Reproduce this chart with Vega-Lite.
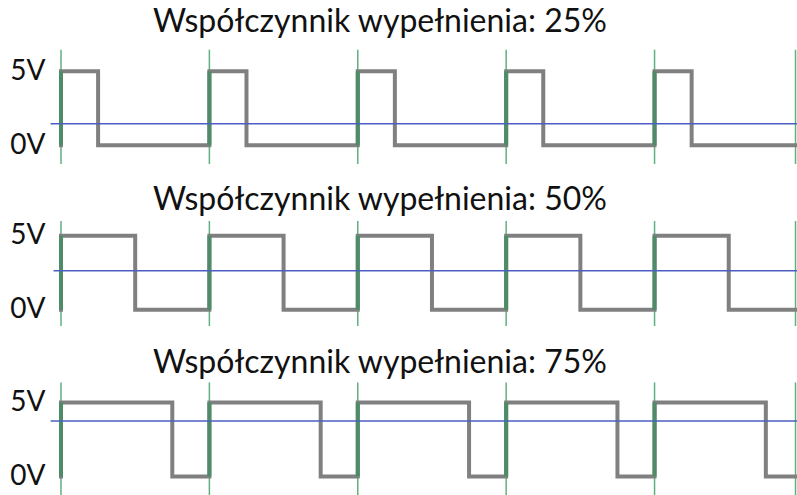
{
  "$schema": "https://vega.github.io/schema/vega-lite/v6.json",
  "background": "white",
  "padding": {"left": 0, "top": 5, "right": 0, "bottom": 0},
  "spacing": 18.6,
  "config": {
    "view": {"stroke": null},
    "font": "Lato",
    "title": {"font": "Lato", "fontSize": 32, "fontWeight": "normal", "color": "#111111", "anchor": "middle", "dx": -49, "baseline": "alphabetic"}
  },
  "datasets": {
    "wave": [
      {"duty": 25, "t": 0, "v": 0}, {"duty": 25, "t": 0, "v": 5}, {"duty": 25, "t": 0.25, "v": 0},
      {"duty": 25, "t": 1, "v": 5}, {"duty": 25, "t": 1.25, "v": 0},
      {"duty": 25, "t": 2, "v": 5}, {"duty": 25, "t": 2.25, "v": 0},
      {"duty": 25, "t": 3, "v": 5}, {"duty": 25, "t": 3.25, "v": 0},
      {"duty": 25, "t": 4, "v": 5}, {"duty": 25, "t": 4.25, "v": 0}, {"duty": 25, "t": 4.95, "v": 0},
      {"duty": 50, "t": 0, "v": 0}, {"duty": 50, "t": 0, "v": 5}, {"duty": 50, "t": 0.5, "v": 0},
      {"duty": 50, "t": 1, "v": 5}, {"duty": 50, "t": 1.5, "v": 0},
      {"duty": 50, "t": 2, "v": 5}, {"duty": 50, "t": 2.5, "v": 0},
      {"duty": 50, "t": 3, "v": 5}, {"duty": 50, "t": 3.5, "v": 0},
      {"duty": 50, "t": 4, "v": 5}, {"duty": 50, "t": 4.5, "v": 0}, {"duty": 50, "t": 4.95, "v": 0},
      {"duty": 75, "t": 0, "v": 0}, {"duty": 75, "t": 0, "v": 5}, {"duty": 75, "t": 0.75, "v": 0},
      {"duty": 75, "t": 1, "v": 5}, {"duty": 75, "t": 1.75, "v": 0},
      {"duty": 75, "t": 2, "v": 5}, {"duty": 75, "t": 2.75, "v": 0},
      {"duty": 75, "t": 3, "v": 5}, {"duty": 75, "t": 3.75, "v": 0},
      {"duty": 75, "t": 4, "v": 5}, {"duty": 75, "t": 4.75, "v": 0}, {"duty": 75, "t": 4.95, "v": 0}
    ],
    "periods": [{"t": 0}, {"t": 1}, {"t": 2}, {"t": 3}, {"t": 4}, {"t": 4.95}],
    "avg": [{"duty": 25, "avg": 1.45}, {"duty": 50, "avg": 2.64}, {"duty": 75, "avg": 3.74}]
  },
  "vconcat": [
    {
      "width": 736, "height": 115,
      "title": {"text": "Współczynnik wypełnienia: 25%", "offset": 10.2},
      "layer": [
        {"data": {"name": "periods"}, "mark": {"type": "rule", "color": "#5fb07f", "strokeWidth": 1.5},
         "encoding": {"x": {"field": "t", "type": "quantitative", "scale": {"domain": [0, 4.96], "nice": false, "zero": false}, "axis": null},
                      "y": {"datum": 6.45, "type": "quantitative", "scale": {"domain": [-1.27, 6.5], "nice": false, "zero": false},
                            "axis": {"values": [0, 5], "title": null, "labelExpr": "datum.value + 'V'", "domain": false, "ticks": false, "grid": false, "labelFontSize": 28, "labelFont": "Lato", "labelColor": "#111111", "labelPadding": 16, "minExtent": 61, "maxExtent": 61, "labelBaseline": "middle"}},
                      "y2": {"datum": -1.27}}},
        {"data": {"name": "wave"}, "transform": [{"filter": "datum.duty == 25"}],
         "mark": {"type": "line", "interpolate": "step-after", "color": "#808080", "strokeWidth": 4, "strokeJoin": "miter", "strokeCap": "square"},
         "encoding": {"x": {"field": "t", "type": "quantitative", "axis": null},
                      "y": {"field": "v", "type": "quantitative",
                            "axis": {"values": [0, 5], "title": null, "labelExpr": "datum.value + 'V'", "domain": false, "ticks": false, "grid": false, "labelFontSize": 28, "labelFont": "Lato", "labelColor": "#111111", "labelPadding": 16, "minExtent": 61, "maxExtent": 61, "labelBaseline": "middle"}},
                      "order": {"value": null}}},
        {"data": {"name": "periods"}, "transform": [{"filter": "datum.t < 4.9"}],
         "mark": {"type": "rule", "color": "#4c8c66", "strokeWidth": 4},
         "encoding": {"x": {"field": "t", "type": "quantitative", "axis": null}, "y": {"datum": 5, "type": "quantitative"}, "y2": {"datum": 0}}},
        {"data": {"name": "avg"}, "transform": [{"filter": "datum.duty == 25"}],
         "mark": {"type": "rule", "color": "#4a5fc1", "strokeWidth": 1.4},
         "encoding": {"x": {"datum": -0.07, "type": "quantitative", "axis": null}, "x2": {"datum": 4.97},
                      "y": {"field": "avg", "type": "quantitative"}}}
      ]
    },
    {
      "width": 736, "height": 115,
      "title": {"text": "Współczynnik wypełnienia: 50%", "offset": -3.2},
      "layer": [
        {"data": {"name": "periods"}, "mark": {"type": "rule", "color": "#5fb07f", "strokeWidth": 1.5},
         "encoding": {"x": {"field": "t", "type": "quantitative", "scale": {"domain": [0, 4.96], "nice": false, "zero": false}, "axis": null},
                      "y": {"datum": 6.0, "type": "quantitative", "scale": {"domain": [-1.27, 6.5], "nice": false, "zero": false},
                            "axis": {"values": [0, 5], "title": null, "labelExpr": "datum.value + 'V'", "domain": false, "ticks": false, "grid": false, "labelFontSize": 28, "labelFont": "Lato", "labelColor": "#111111", "labelPadding": 16, "minExtent": 61, "maxExtent": 61, "labelBaseline": "middle"}},
                      "y2": {"datum": -1.1}}},
        {"data": {"name": "wave"}, "transform": [{"filter": "datum.duty == 50"}],
         "mark": {"type": "line", "interpolate": "step-after", "color": "#808080", "strokeWidth": 4, "strokeJoin": "miter", "strokeCap": "square"},
         "encoding": {"x": {"field": "t", "type": "quantitative", "axis": null},
                      "y": {"field": "v", "type": "quantitative",
                            "axis": {"values": [0, 5], "title": null, "labelExpr": "datum.value + 'V'", "domain": false, "ticks": false, "grid": false, "labelFontSize": 28, "labelFont": "Lato", "labelColor": "#111111", "labelPadding": 16, "minExtent": 61, "maxExtent": 61, "labelBaseline": "middle"}},
                      "order": {"value": null}}},
        {"data": {"name": "periods"}, "transform": [{"filter": "datum.t < 4.9"}],
         "mark": {"type": "rule", "color": "#4c8c66", "strokeWidth": 4},
         "encoding": {"x": {"field": "t", "type": "quantitative", "axis": null}, "y": {"datum": 5, "type": "quantitative"}, "y2": {"datum": 0}}},
        {"data": {"name": "avg"}, "transform": [{"filter": "datum.duty == 50"}],
         "mark": {"type": "rule", "color": "#4a5fc1", "strokeWidth": 1.4},
         "encoding": {"x": {"datum": -0.05, "type": "quantitative", "axis": null}, "x2": {"datum": 4.97},
                      "y": {"field": "avg", "type": "quantitative"}}}
      ]
    },
    {
      "width": 736, "height": 115,
      "title": {"text": "Współczynnik wypełnienia: 75%", "offset": -0.2},
      "layer": [
        {"data": {"name": "periods"}, "mark": {"type": "rule", "color": "#5fb07f", "strokeWidth": 1.5},
         "encoding": {"x": {"field": "t", "type": "quantitative", "scale": {"domain": [0, 4.96], "nice": false, "zero": false}, "axis": null},
                      "y": {"datum": 6.35, "type": "quantitative", "scale": {"domain": [-1.27, 6.5], "nice": false, "zero": false},
                            "axis": {"values": [0, 5], "title": null, "labelExpr": "datum.value + 'V'", "domain": false, "ticks": false, "grid": false, "labelFontSize": 28, "labelFont": "Lato", "labelColor": "#111111", "labelPadding": 16, "minExtent": 61, "maxExtent": 61, "labelBaseline": "middle"}},
                      "y2": {"datum": -1.27}}},
        {"data": {"name": "wave"}, "transform": [{"filter": "datum.duty == 75"}],
         "mark": {"type": "line", "interpolate": "step-after", "color": "#808080", "strokeWidth": 4, "strokeJoin": "miter", "strokeCap": "square"},
         "encoding": {"x": {"field": "t", "type": "quantitative", "axis": null},
                      "y": {"field": "v", "type": "quantitative",
                            "axis": {"values": [0, 5], "title": null, "labelExpr": "datum.value + 'V'", "domain": false, "ticks": false, "grid": false, "labelFontSize": 28, "labelFont": "Lato", "labelColor": "#111111", "labelPadding": 16, "minExtent": 61, "maxExtent": 61, "labelBaseline": "middle"}},
                      "order": {"value": null}}},
        {"data": {"name": "periods"}, "transform": [{"filter": "datum.t < 4.9"}],
         "mark": {"type": "rule", "color": "#4c8c66", "strokeWidth": 4},
         "encoding": {"x": {"field": "t", "type": "quantitative", "axis": null}, "y": {"datum": 5, "type": "quantitative"}, "y2": {"datum": 0}}},
        {"data": {"name": "avg"}, "transform": [{"filter": "datum.duty == 75"}],
         "mark": {"type": "rule", "color": "#4a5fc1", "strokeWidth": 1.4},
         "encoding": {"x": {"datum": -0.07, "type": "quantitative", "axis": null}, "x2": {"datum": 4.97},
                      "y": {"field": "avg", "type": "quantitative"}}}
      ]
    }
  ]
}
